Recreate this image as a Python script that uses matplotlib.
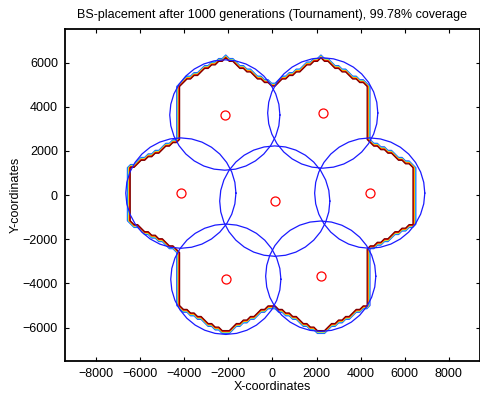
import numpy as np
import matplotlib
matplotlib.use("Agg")
import matplotlib.pyplot as plt

plt.rcParams["font.family"] = ["Liberation Sans", "DejaVu Sans"]

# hexagonal cell layout (pointy-top cells, radius in metres)
cell_radius = 2500
hex_cx = [0, 4330, -4330, 2165, -2165, 2165, -2165]
hex_cy = [0, 0, 0, 3750, 3750, -3750, -3750]

# optimised base station positions
bs_x = [-2163, 2281, -4159, 104, 4413, -2118, 2190]
bs_y = [3628, 3719, 91, -272, 91, -3810, -3673]
bs_range = 2500

title = "BS-placement after 1000 generations (Tournament), 99.78% coverage"
xticks = [-8000, -6000, -4000, -2000, 0, 2000, 4000, 6000, 8000]
yticks = [-6000, -4000, -2000, 0, 2000, 4000, 6000]

# coverage area mask on a coarse grid (gives the staircase contour)
step = 160
gx = np.arange(-9000, 9001, step)
gy = np.arange(-9000, 9001, step)
X, Y = np.meshgrid(gx, gy)
a = cell_radius * np.sqrt(3) / 2
inside = np.zeros_like(X, dtype=float)
for cx, cy in zip(hex_cx, hex_cy):
    dx = np.abs(X - cx)
    dy = np.abs(Y - cy)
    m = (dx <= a + 1) & (0.5 * dx + np.sqrt(3) / 2 * dy <= a + 1)
    inside[m] = 1.0

fig = plt.figure(figsize=(4.81, 3.97), dpi=100)
ax = fig.add_axes([0.135, 0.0914, 0.863, 0.8343])

levels = [0.1, 0.3, 0.5, 0.7, 0.9]
level_colors = ["#2040ff", "#00c8ff", "#ffee00", "#ff1500", "#800000"]
ax.contour(X, Y, inside, levels=levels, colors=level_colors, linewidths=0.9)

t = np.linspace(0, 2 * np.pi, 33)
for x0, y0 in zip(bs_x, bs_y):
    ax.plot(x0 + bs_range * np.cos(t), y0 + bs_range * np.sin(t),
            color=(0.1, 0.1, 1), lw=0.9)
ax.plot(bs_x, bs_y, "o", mfc="none", mec="red", ms=6.5, mew=0.9)

ax.set_xlim(-9420, 9420)
ax.set_ylim(-7500, 7500)
ax.set_xticks(xticks)
ax.set_yticks(yticks)
ax.tick_params(direction="in", length=3, width=0.8, top=True, right=True,
               labelsize=9, pad=5)
for s in ax.spines.values():
    s.set_linewidth(1.3)
ax.set_xlabel("X-coordinates", fontsize=9, labelpad=1)
ax.set_ylabel("Y-coordinates", fontsize=9, labelpad=1)
ax.set_title(title, fontsize=9, pad=8)

fig.savefig("out.png", dpi=100)
